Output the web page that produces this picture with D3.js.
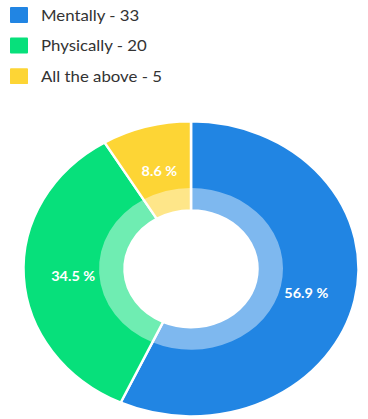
<!DOCTYPE html>
<html>
<head>
<meta charset="utf-8">
<script src="https://cdn.jsdelivr.net/npm/d3@7"></script>
<style>
  html, body { margin: 0; padding: 0; background: #fff; }
  svg { display: block; }
</style>
</head>
<body>
<svg id="chart" width="368" height="419"></svg>
<script>
// Answers and their counts
const categories = ["Mentally", "Physically", "All the above"];
const counts = [33, 20, 5];
const colors = ["#2185e3", "#07e07b", "#fdd535"];

const W = 368, H = 419;
const squash = 0.88;            // vertical scale applied to the whole drawing
const svg = d3.select("#chart");
const root = svg.append("g").attr("transform", `scale(1,${squash})`);

// Legend
const legend = root.append("g").attr("font-family", "Lato, 'Open Sans', sans-serif");
const rowY = d3.scalePoint().domain(categories).range([8, 77.5]);
const rows = legend.selectAll("g.row").data(categories).join("g")
  .attr("class", "row")
  .attr("transform", d => `translate(10,${rowY(d)})`);
rows.append("rect").attr("width", 18).attr("height", 18).attr("rx", 1)
  .attr("fill", (d, i) => colors[i]);
rows.append("text").attr("x", 31).attr("y", 15.5)
  .attr("font-size", 16.8).attr("fill", "#333")
  .text((d, i) => `${categories[i]} - ${counts[i]}`);

// Donut
const cx = 191, cy = 305.5;
const rOuter = 167.5, rMid = 92, rInner = 66.5, rLabel = 118;
const total = d3.sum(counts);
const pie = d3.pie().sort(null).value(d => d.v);
const arcsData = pie(categories.map((c, i) => ({ c, v: counts[i], col: colors[i] })));

const donut = root.append("g").attr("transform", `translate(${cx},${cy})`);
const arcFull = d3.arc().innerRadius(rInner).outerRadius(rOuter);
const arcInner = d3.arc().innerRadius(rInner).outerRadius(rMid);

donut.selectAll("path.slice").data(arcsData).join("path")
  .attr("class", "slice")
  .attr("d", arcFull)
  .attr("fill", d => d.data.col)
  .attr("stroke", "#fff").attr("stroke-width", 2.5);

// lighter inner band
donut.selectAll("path.band").data(arcsData).join("path")
  .attr("class", "band")
  .attr("d", arcInner)
  .attr("fill", "#fff").attr("fill-opacity", 0.42);

// percentage labels
const labelArc = d3.arc().innerRadius(rLabel).outerRadius(rLabel);
donut.selectAll("text.pct").data(arcsData).join("text")
  .attr("class", "pct")
  .attr("transform", d => `translate(${labelArc.centroid(d)})`)
  .attr("text-anchor", "middle")
  .attr("dy", "0.55em")
  .attr("font-family", "Lato, 'Open Sans', sans-serif")
  .attr("font-weight", "bold")
  .attr("font-size", 14.5)
  .attr("fill", "#fff")
  .text(d => `${(d.data.v / total * 100).toFixed(1)} %`);
</script>
</body>
</html>
